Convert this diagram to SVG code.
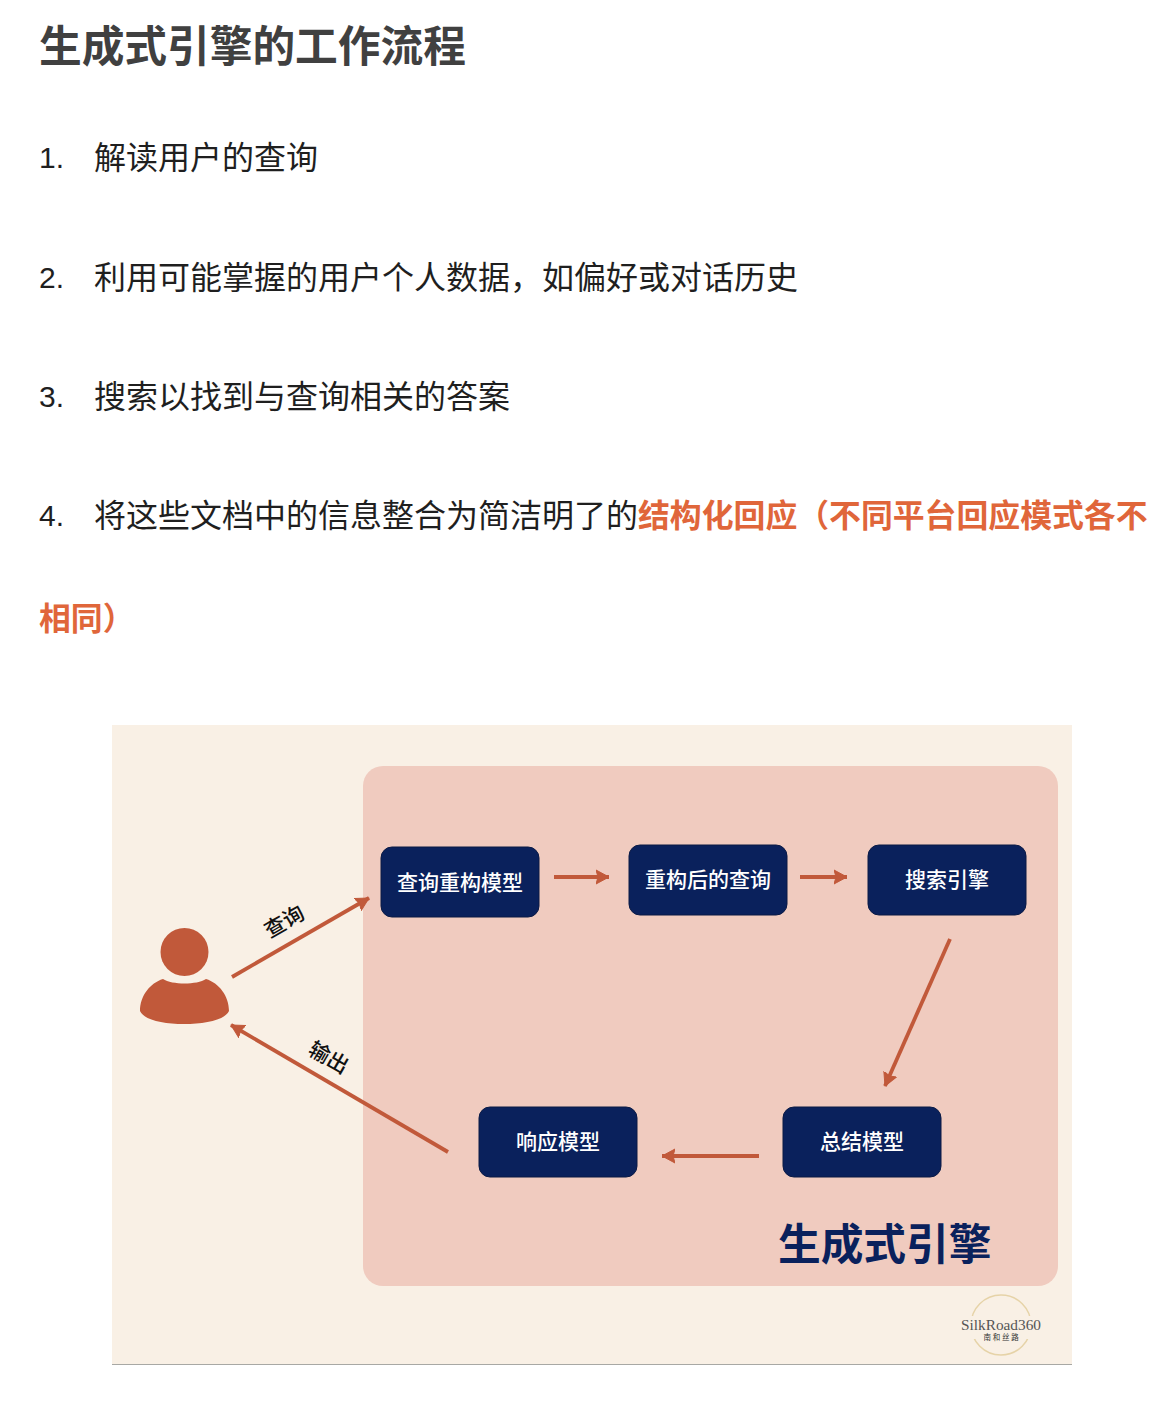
<svg xmlns="http://www.w3.org/2000/svg" width="1171" height="1401" viewBox="0 0 1171 1401">
<style>
text{font-family:"Liberation Sans","Noto Sans CJK SC",sans-serif}
.t{font-size:32px;fill:#1f1f1f}
.n{font-size:30px;fill:#1f1f1f}
.h{font-weight:700;fill:#e0663a;font-size:31.850px}
.box{fill:#0a215c;stroke:#0a1a45;stroke-width:1}
.lb{font-size:21px;fill:#fff;text-anchor:middle;font-weight:500}
.edge{fill:none;stroke:#c1593a;stroke-width:3.8}
.tag{font-size:21px;fill:#111;text-anchor:middle;font-weight:500}
</style>
<defs>
<marker id="a" markerUnits="userSpaceOnUse" markerWidth="18" markerHeight="18" refX="13" refY="8" orient="auto"><path d="M0 1L13 8L0 15L2 8Z" fill="#c1593a" stroke="#c1593a" stroke-width="1" stroke-linejoin="round"/></marker>
</defs>
<rect width="1171" height="1401" fill="#fff"/>
<text id="title" x="39" y="62" font-size="42.700" font-weight="700" fill="#404040">生成式引擎的工作流程</text>
<g id="list">
<text class="n" x="39" y="168">1.</text><text class="t" x="94" y="169">解读用户的查询</text>
<text class="n" x="39" y="288">2.</text><text class="t" x="94" y="289">利用可能掌握的用户个人数据，如偏好或对话历史</text>
<text class="n" x="39" y="407">3.</text><text class="t" x="94" y="408">搜索以找到与查询相关的答案</text>
<text class="n" x="39" y="526">4.</text><text class="t" x="94" y="527">将这些文档中的信息整合为简洁明了的<tspan class="h">结构化回应（不同平台回应模式各不</tspan></text>
<text class="t h" x="39" y="630">相同）</text>
</g>
<rect x="112" y="725" width="960" height="640" fill="#f9f0e5"/>
<rect x="112" y="1364" width="960" height="1" fill="#a8a8a4"/>
<rect id="engine" x="363" y="766" width="695" height="520" rx="20" fill="#f0cbbf"/>
<text id="engine-label" x="778" y="1260" font-size="42.700" font-weight="700" fill="#0a215c">生成式引擎</text>
<g id="user" fill="#c1593a">
<circle cx="184.500" cy="952" r="24"/>
<path d="M163 979C172 985 197 985 206 979C219 983 229 996 229 1011C225 1020 205 1024 184 1024C163 1024 144 1020 140 1011C140 996 150 983 163 979Z"/>
</g>
<g id="connectors">
<path class="edge" marker-end="url(#a)" d="M232 977L369 898"/>
<path class="edge" marker-end="url(#a)" d="M448 1152L231 1025"/>
<path class="edge" marker-end="url(#a)" d="M554 877H609"/>
<path class="edge" marker-end="url(#a)" d="M800 877H847"/>
<path class="edge" marker-end="url(#a)" d="M950 939L885 1086"/>
<path class="edge" marker-end="url(#a)" d="M759 1156H662"/>
</g>
<text class="tag" transform="translate(288 928) rotate(-30)">查询</text>
<text class="tag" transform="translate(325 1064) rotate(30)">输出</text>
<g id="n1"><rect class="box" x="381" y="847" width="158" height="70" rx="11"/><text class="lb" x="460" y="890">查询重构模型</text></g>
<g id="n2"><rect class="box" x="629" y="845" width="158" height="70" rx="11"/><text class="lb" x="708" y="887">重构后的查询</text></g>
<g id="n3"><rect class="box" x="868" y="845" width="158" height="70" rx="11"/><text class="lb" x="947" y="887">搜索引擎</text></g>
<g id="n4"><rect class="box" x="783" y="1107" width="158" height="70" rx="11"/><text class="lb" x="862" y="1149">总结模型</text></g>
<g id="n5"><rect class="box" x="479" y="1107" width="158" height="70" rx="11"/><text class="lb" x="558" y="1149">响应模型</text></g>
<g id="logo">
<circle cx="1001" cy="1325" r="30" fill="none" stroke="#e6d3a8" stroke-width="1.500"/>
<rect x="955" y="1316" width="92" height="23" fill="#f9f0e5"/>
<text x="1001" y="1330" font-size="15.300" text-anchor="middle" fill="#555" style="font-family:'Liberation Serif',serif">SilkRoad360</text>
<text x="1002" y="1340" font-size="7.500" text-anchor="middle" fill="#333" letter-spacing="1.800">南和丝路</text>
</g>
</svg>
